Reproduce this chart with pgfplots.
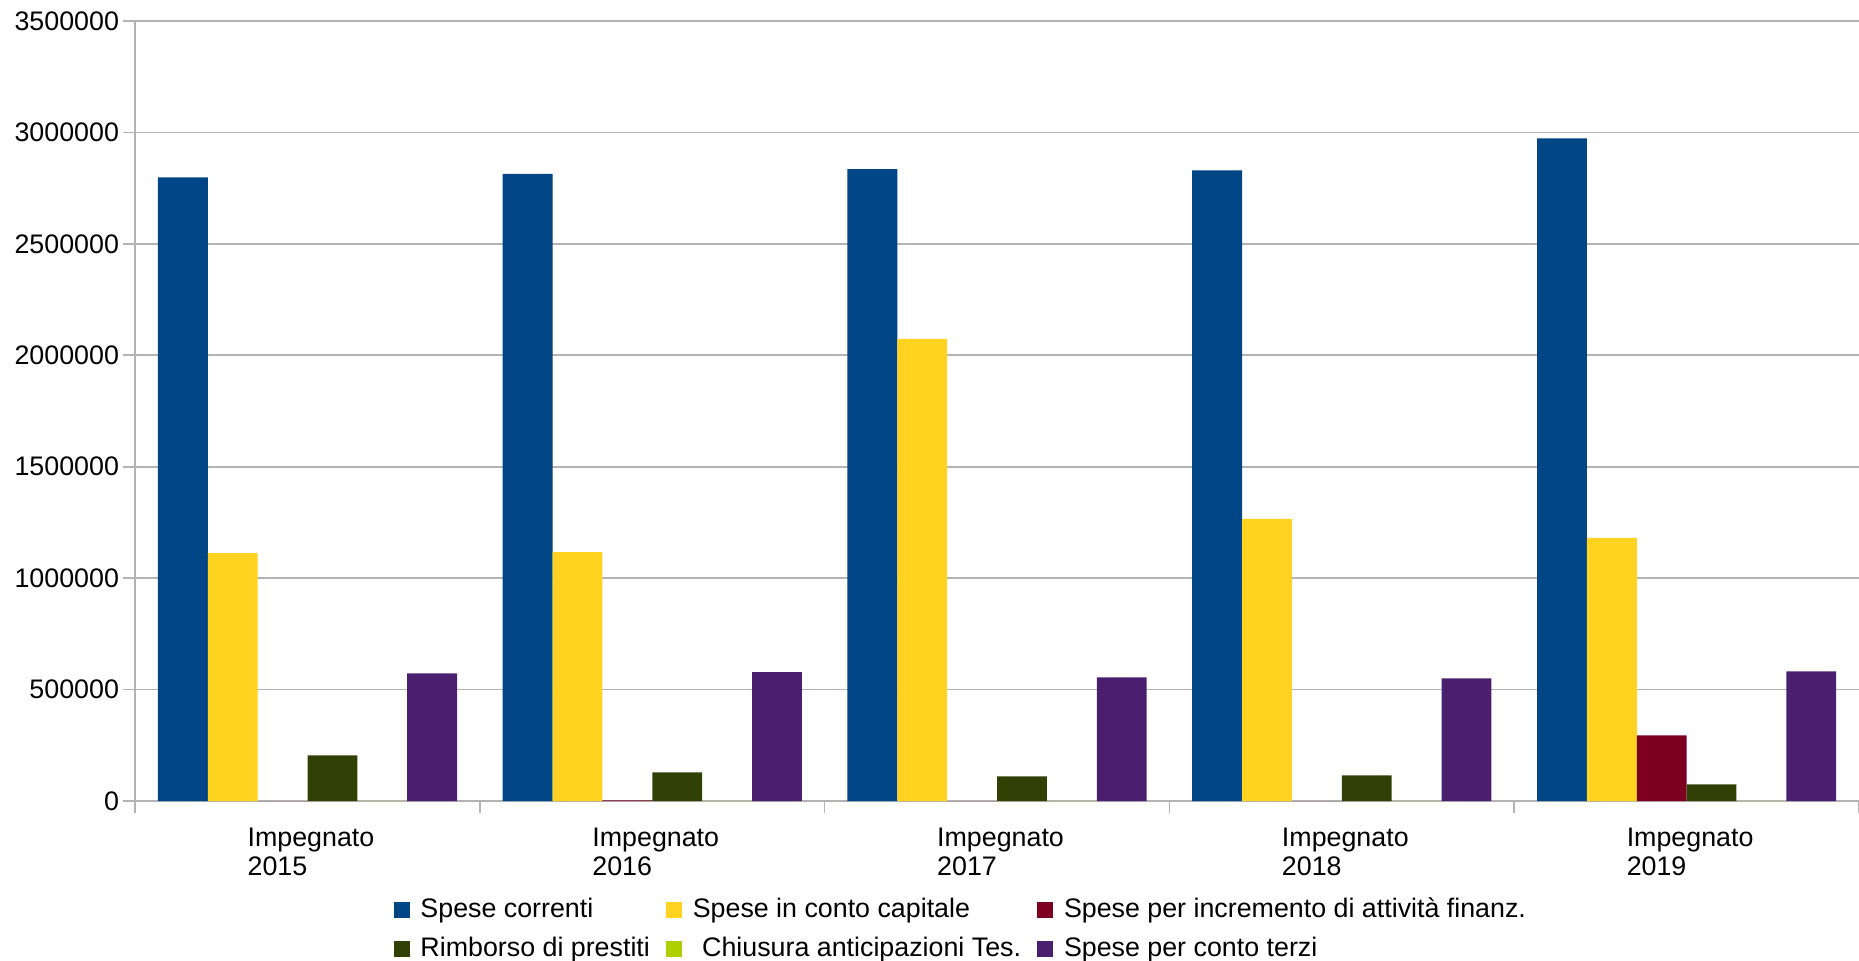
\documentclass[border=0pt]{standalone}
\usepackage{fontspec}
\setmainfont{Liberation Sans}
\usepackage{pgfplots}
\pgfplotsset{compat=1.18}

\definecolor{cBlue}{HTML}{004586}
\definecolor{cYellow}{HTML}{FFD320}
\definecolor{cRed}{HTML}{7E0021}
\definecolor{cGreen}{HTML}{314004}
\definecolor{cLime}{HTML}{AECF00}
\definecolor{cPurple}{HTML}{4B1F6F}
\definecolor{cGrid}{HTML}{B3B3B3}

\begin{document}
\begin{tikzpicture}
\begin{axis}[
  name=ax, at={(0,0)}, anchor=south west,
  scale only axis, width=643pt, height=291pt,
  ybar=0pt, bar width=18.6pt,
  xmin=-0.5, xmax=4.5, ymin=0, ymax=3500000,
  axis x line*=bottom, axis y line*=left,
  axis line style={draw=cGrid, line width=0.6pt},
  xtick={0,1,2,3,4},
  xticklabels={Impegnato\\2015,Impegnato\\2016,Impegnato\\2017,Impegnato\\2018,Impegnato\\2019},
  xticklabel style={align=left, font=\fontsize{10}{11}\selectfont, yshift=-2pt, xshift=1.3pt},
  major x tick style={draw=none},
  minor xtick={-0.5,0.5,1.5,2.5,3.5,4.5},
  minor x tick style={draw=cGrid, line width=0.6pt},
  tick align=outside,
  major tick length=4.5pt, minor tick length=4.5pt,
  ytick={0,500000,...,3500000},
  y tick style={draw=cGrid, line width=0.6pt},
  scaled y ticks=false,
  /pgf/number format/fixed,
  /pgf/number format/1000 sep={},
  /pgf/number format/assume math mode=true,
  yticklabel style={font=\fontsize{10}{12}\selectfont, xshift=2pt},
  ymajorgrids, grid style={draw=cGrid, line width=0.6pt},
  legend columns=3,
  legend style={at={(0.145,-0.110)}, anchor=north west, draw=none, fill=none,
    font=\fontsize{10}{12}\selectfont, row sep=1.8pt,
    /tikz/every odd column/.append style={column sep=2pt},
    /tikz/every even column/.append style={column sep=4pt}},
  legend cell align=left,
  legend image code/.code={\fill[#1] (0pt,-3pt) rectangle (6pt,3pt);},
]
\addplot[fill=cBlue, draw=none] coordinates {(0,2798000) (1,2814000) (2,2835000) (3,2830000) (4,2973000)};
\addplot[fill=cYellow, draw=none] coordinates {(0,1112000) (1,1117000) (2,2074000) (3,1266000) (4,1181000)};
\addplot[fill=cRed, draw=none] coordinates {(0,0) (1,3000) (2,0) (3,0) (4,295000)};
\addplot[fill=cGreen, draw=none] coordinates {(0,205000) (1,129000) (2,111000) (3,115000) (4,75000)};
\addplot[fill=cLime, draw=none] coordinates {(0,0) (1,0) (2,0) (3,0) (4,0)};
\addplot[fill=cPurple, draw=none] coordinates {(0,573000) (1,578000) (2,555000) (3,551000) (4,582000)};
\legend{Spese correnti, Spese in conto capitale, Spese per incremento di attività finanz.,
  Rimborso di prestiti, \hspace{3.5pt}Chiusura anticipazioni Tes., Spese per conto terzi}
\end{axis}
\pgfresetboundingbox
\path[use as bounding box] (-50.4pt,-59.3pt) rectangle (643pt,298.8pt);
\end{tikzpicture}
\end{document}
